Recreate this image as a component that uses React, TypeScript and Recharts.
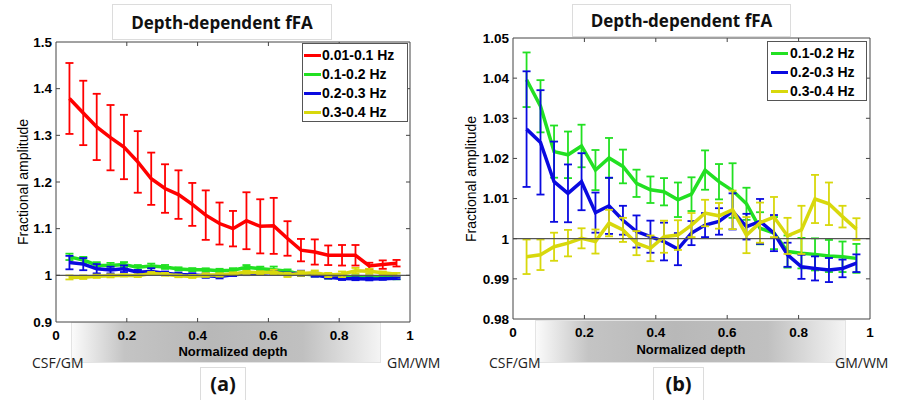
import React from 'react';
import {
  ComposedChart,
  Line,
  XAxis,
  YAxis,
  ErrorBar,
  ReferenceLine,
  ReferenceArea,
} from 'recharts';

// Normalized cortical depth of each sampled layer (CSF/GM = 0, GM/WM = 1)
const depth = [
  0.038, 0.077, 0.115, 0.154, 0.192, 0.231, 0.269, 0.308, 0.346, 0.385, 0.423, 0.462, 0.5,
  0.538, 0.577, 0.615, 0.654, 0.692, 0.731, 0.769, 0.808, 0.846, 0.885, 0.923, 0.962,
];

// 0.01-0.1 Hz band: mean fFA and half-width of the error bar
const red = [
  1.379, 1.348, 1.318, 1.295, 1.275, 1.243, 1.207, 1.186, 1.173, 1.152, 1.129, 1.111, 1.1,
  1.117, 1.105, 1.106, 1.079, 1.054, 1.05, 1.043, 1.043, 1.043, 1.02, 1.023, 1.026,
];
const redErr = [
  0.076, 0.069, 0.071, 0.07, 0.069, 0.066, 0.056, 0.052, 0.052, 0.046, 0.053, 0.045, 0.038,
  0.061, 0.058, 0.06, 0.037, 0.024, 0.027, 0.021, 0.022, 0.022, 0.007, 0.009, 0.007,
];

// 0.1-0.2 Hz band
const green = [
  1.0396, 1.033, 1.0217, 1.0209, 1.0231, 1.0171, 1.0201, 1.018, 1.0138, 1.0122, 1.0117, 1.0097,
  1.0111, 1.0171, 1.0142, 1.012, 1.0087, 1.0026, 1.0014, 0.9968, 0.9964, 0.9961, 0.9957, 0.9955,
  0.9951,
];
const greenErr = [
  0.0068, 0.0065, 0.0065, 0.0058, 0.0053, 0.005, 0.005, 0.0042, 0.0034, 0.0033, 0.0034, 0.0043,
  0.0042, 0.0049, 0.0044, 0.0068, 0.004, 0.004, 0.004, 0.004, 0.0038, 0.004, 0.004, 0.0038,
  0.0036,
];

// 0.2-0.3 Hz band
const blue = [
  1.0273, 1.024, 1.0142, 1.0113, 1.0142, 1.0065, 1.0082, 1.0046, 1.0018, 1.0005, 0.9993, 0.9974,
  1.0014, 1.0034, 1.0043, 1.0068, 1.003, 1.0043, 1.0014, 0.996, 0.993, 0.9926, 0.9922, 0.9926,
  0.9939,
];
const blueErr = [
  0.0144, 0.013, 0.01, 0.0072, 0.0071, 0.005, 0.007, 0.0036, 0.004, 0.004, 0.0047, 0.004, 0.003,
  0.003, 0.0033, 0.0045, 0.0032, 0.0056, 0.0045, 0.003, 0.003, 0.003, 0.003, 0.0022, 0.0022,
];

// 0.3-0.4 Hz band
const yellow = [
  0.9955, 0.996, 0.998, 0.9989, 1.0001, 0.9993, 1.0039, 1.0022, 0.9989, 0.9976, 1.0005, 1.0009,
  1.0034, 1.0064, 1.0057, 1.0072, 1.0009, 1.004, 1.0054, 1.0007, 1.0022, 1.0099, 1.0087, 1.0055,
  1.0024,
];
const yellowErr = [
  0.0043, 0.0038, 0.0035, 0.0033, 0.0025, 0.003, 0.0033, 0.003, 0.003, 0.0032, 0.004, 0.0037,
  0.003, 0.0033, 0.0032, 0.0048, 0.0045, 0.005, 0.005, 0.0045, 0.006, 0.006, 0.0053, 0.0027,
  0.0027,
];

const xTicks = [0, 0.2, 0.4, 0.6, 0.8, 1];
const xTickLabels = ['0', '0.2', '0.4', '0.6', '0.8', '1'];
const yTicksA = [0.9, 1, 1.1, 1.2, 1.3, 1.4, 1.5];
const yTickLabelsA = ['0.9', '1', '1.1', '1.2', '1.3', '1.4', '1.5'];
const yTicksB = [0.98, 0.99, 1, 1.01, 1.02, 1.03, 1.04, 1.05];
const yTickLabelsB = ['0.98', '0.99', '1', '1.01', '1.02', '1.03', '1.04', '1.05'];

const bandNames = {
  red: '0.01-0.1 Hz',
  green: '0.1-0.2 Hz',
  blue: '0.2-0.3 Hz',
  yellow: '0.3-0.4 Hz',
};
const colors = {
  red: '#ff0000',
  green: '#22e022',
  blue: '#0a0ae0',
  yellow: '#d8d80c',
};

const rows = depth.map((d, i) => ({
  d,
  red: red[i],
  redErr: redErr[i],
  green: green[i],
  greenErr: greenErr[i],
  blue: blue[i],
  blueErr: blueErr[i],
  yellow: yellow[i],
  yellowErr: yellowErr[i],
}));

const labelFor = (ticks: number[], labels: string[]) => (v: number) => {
  let best = 0;
  ticks.forEach((t, i) => {
    if (Math.abs(t - v) < Math.abs(ticks[best] - v)) best = i;
  });
  return labels[best];
};

const AXIS = '#444';
const tickFont = {
  fill: '#000',
  fontSize: 13.5,
  fontWeight: 700,
  fontFamily: '"Liberation Sans", Arial, sans-serif',
};
const sansLabel = '"Liberation Sans", Arial, sans-serif';
const capFont = '"Open Sans", "Noto Sans", sans-serif';

// inward tick length, as a fraction of each axis span (about 4px)
const TICK_FRAC_X = 0.0113;
const TICK_FRAC_Y = 0.0143;

type Key = 'red' | 'green' | 'blue' | 'yellow';

interface PanelProps {
  left: number;
  series: Key[];
  yDomain: [number, number];
  yTicks: number[];
  yLabels: string[];
  yAxisW: number;
  margin: { top: number; right: number; bottom: number; left: number };
}

function Panel({ left, series, yDomain, yTicks, yLabels, yAxisW, margin }: PanelProps) {
  const [y0, y1] = yDomain;
  const ty = (y1 - y0) * TICK_FRAC_Y;
  const tx = TICK_FRAC_X;
  const innerX = xTicks.filter((t) => t > 0 && t < 1);
  const innerY = yTicks.filter((t) => t > y0 && t < y1);
  return (
    <div style={{ position: 'absolute', left, top: 0 }}>
      <ComposedChart width={450} height={400} data={rows} margin={margin}>
        <XAxis
          xAxisId="b"
          dataKey="d"
          type="number"
          domain={[0, 1]}
          ticks={xTicks}
          interval={0}
          tickFormatter={labelFor(xTicks, xTickLabels)}
          tickSize={0}
          tickMargin={8}
          height={1}
          axisLine={false}
          tickLine={false}
          tick={tickFont}
        />
        <YAxis
          yAxisId="l"
          type="number"
          domain={yDomain}
          ticks={yTicks}
          interval={0}
          tickFormatter={labelFor(yTicks, yLabels)}
          tickSize={0}
          tickMargin={4}
          width={yAxisW}
          axisLine={false}
          tickLine={false}
          tick={tickFont}
        />
        {series.map((k) => (
          <Line
            key={k}
            xAxisId="b"
            yAxisId="l"
            type="linear"
            dataKey={k}
            stroke={colors[k]}
            strokeWidth={3.5}
            dot={false}
            isAnimationActive={false}
          >
            <ErrorBar
              dataKey={`${k}Err`}
              width={4}
              stroke={colors[k]}
              strokeWidth={1.8}
              direction="y"
              isAnimationActive={false}
            />
          </Line>
        ))}
        <ReferenceLine xAxisId="b" yAxisId="l" y={1} stroke="#555" strokeWidth={1.2} />
        {/* axes box */}
        <ReferenceArea
          xAxisId="b"
          yAxisId="l"
          x1={0}
          x2={1}
          y1={y0}
          y2={y1}
          fill="none"
          fillOpacity={0}
          stroke={AXIS}
          strokeWidth={1}
          ifOverflow="visible"
        />
        {innerX.map((t) => (
          <ReferenceLine
            key={`xb${t}`}
            xAxisId="b"
            yAxisId="l"
            segment={[{ x: t, y: y0 }, { x: t, y: y0 + ty }]}
            stroke={AXIS}
            strokeWidth={1}
          />
        ))}
        {innerX.map((t) => (
          <ReferenceLine
            key={`xt${t}`}
            xAxisId="b"
            yAxisId="l"
            segment={[{ x: t, y: y1 }, { x: t, y: y1 - ty }]}
            stroke={AXIS}
            strokeWidth={1}
          />
        ))}
        {innerY.map((t) => (
          <ReferenceLine
            key={`yl${t}`}
            xAxisId="b"
            yAxisId="l"
            segment={[{ x: 0, y: t }, { x: tx, y: t }]}
            stroke={AXIS}
            strokeWidth={1}
          />
        ))}
        {innerY.map((t) => (
          <ReferenceLine
            key={`yr${t}`}
            xAxisId="b"
            yAxisId="l"
            segment={[{ x: 1, y: t }, { x: 1 - tx, y: t }]}
            stroke={AXIS}
            strokeWidth={1}
          />
        ))}
      </ComposedChart>
    </div>
  );
}

function LegendBox({ left, top, width, keys, textLeft, lineLeft }: {
  left: number; top: number; width: number; keys: Key[]; textLeft: number; lineLeft: number;
}) {
  return (
    <div
      style={{
        position: 'absolute',
        left,
        top,
        width,
        height: keys.length * 19 + 3,
        border: '1px solid #555',
        background: '#fff',
        boxSizing: 'border-box',
        paddingTop: 2,
      }}
    >
      {keys.map((k) => (
        <div key={k} style={{ position: 'relative', height: 19 }}>
          <div
            style={{
              position: 'absolute',
              left: lineLeft,
              top: 8,
              width: 17,
              height: 3,
              background: colors[k],
            }}
          />
          <div
            style={{
              position: 'absolute',
              left: textLeft,
              top: 0,
              lineHeight: '19px',
              fontFamily: sansLabel,
              fontWeight: 700,
              fontSize: 14,
              color: '#000',
              whiteSpace: 'nowrap',
            }}
          >
            {bandNames[k]}
          </div>
        </div>
      ))}
    </div>
  );
}

const boxed = (left: number, top: number, width: number, height: number): React.CSSProperties => ({
  position: 'absolute',
  left,
  top,
  width,
  height,
  border: '1px solid #dcdcdc',
  boxSizing: 'border-box',
  background: '#fff',
  display: 'flex',
  alignItems: 'center',
  justifyContent: 'center',
  fontFamily: capFont,
  fontWeight: 700,
  color: '#111',
});

const gradientBox = (left: number, top: number, width: number, height: number): React.CSSProperties => ({
  position: 'absolute',
  left,
  top,
  width,
  height,
  border: '1px solid #e4e4e4',
  boxSizing: 'border-box',
  background:
    'linear-gradient(90deg, #fbfbfb 0%, #c4c4c4 17%, #b8b8b8 45%, #c0c0c0 75%, #f4f4f4 100%)',
});

const edgeLabel = (left: number): React.CSSProperties => ({
  position: 'absolute',
  left,
  top: 356,
  fontFamily: capFont,
  fontSize: 14,
  lineHeight: '14px',
  color: '#222',
  whiteSpace: 'nowrap',
});

const axisTitle = (cx: number, cy: number): React.CSSProperties => ({
  position: 'absolute',
  left: cx - 100,
  top: cy - 9,
  width: 200,
  height: 18,
  lineHeight: '18px',
  textAlign: 'center',
  transform: 'rotate(-90deg)',
  fontFamily: sansLabel,
  fontSize: 14,
  color: '#000',
  whiteSpace: 'nowrap',
});

const xTitle = (cx: number, cy: number): React.CSSProperties => ({
  position: 'absolute',
  left: cx - 100,
  top: cy - 9,
  width: 200,
  height: 18,
  lineHeight: '18px',
  textAlign: 'center',
  fontFamily: sansLabel,
  fontWeight: 700,
  fontSize: 13,
  color: '#000',
});

export default function App() {
  return (
    <div
      style={{
        position: 'absolute',
        left: 0,
        top: 0,
        width: 899,
        height: 400,
        overflow: 'hidden',
        background: '#fff',
      }}
    >
      {/* shaded depth bands under the x axes */}
      <div style={gradientBox(71, 322, 310, 41)} />
      <div style={gradientBox(535, 320, 311, 43)} />

      <Panel
        left={0}
        series={['red', 'green', 'blue', 'yellow']}
        yDomain={[0.9, 1.5]}
        yTicks={yTicksA}
        yLabels={yTickLabelsA}
        yAxisW={56}
        margin={{ top: 42, right: 40, bottom: 77, left: 0 }}
      />
      <Panel
        left={449}
        series={['green', 'blue', 'yellow']}
        yDomain={[0.98, 1.05]}
        yTicks={yTicksB}
        yLabels={yTickLabelsB}
        yAxisW={64}
        margin={{ top: 38, right: 29, bottom: 80, left: 0 }}
      />

      <div style={xTitle(233, 352)}>Normalized depth</div>
      <div style={xTitle(691, 350)}>Normalized depth</div>
      <div style={axisTitle(22.5, 182)}>Fractional amplitude</div>
      <div style={axisTitle(471, 179)}>Fractional amplitude</div>

      <div style={{ ...boxed(112, 4, 220, 36), fontSize: 17 }}>Depth-dependent fFA</div>
      <div style={{ ...boxed(572, 4, 219, 33), fontSize: 17 }}>Depth-dependent fFA</div>

      <LegendBox left={302} top={43} width={106} keys={['red', 'green', 'blue', 'yellow']} textLeft={19} lineLeft={1} />
      <LegendBox left={767} top={41} width={100} keys={['green', 'blue', 'yellow']} textLeft={22} lineLeft={3} />

      <div style={edgeLabel(32)}>CSF/GM</div>
      <div style={edgeLabel(387)}>GM/WM</div>
      <div style={edgeLabel(489)}>CSF/GM</div>
      <div style={edgeLabel(835)}>GM/WM</div>

      <div style={{ ...boxed(200, 367, 46, 40), fontSize: 20, alignItems: 'flex-start', paddingTop: 2 }}>(a)</div>
      <div style={{ ...boxed(653, 367, 51, 40), fontSize: 20, alignItems: 'flex-start', paddingTop: 2 }}>(b)</div>
    </div>
  );
}
